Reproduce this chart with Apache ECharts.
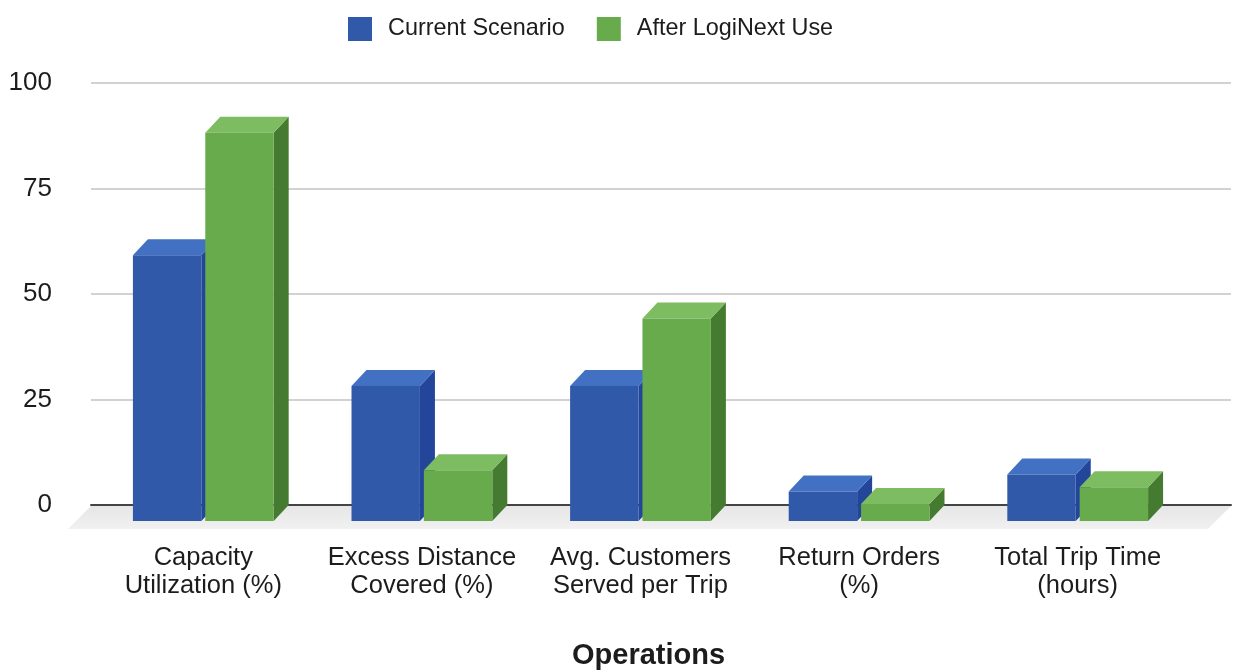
<!DOCTYPE html>
<html>
<head>
<meta charset="utf-8">
<script src="https://cdn.jsdelivr.net/npm/echarts@6/dist/echarts.min.js"></script>
<style>
html,body{margin:0;padding:0;background:#fff;}
#chart{width:1233px;height:672px;}
</style>
</head>
<body>
<div id="chart"></div>
<script>
const categories = ['Capacity\nUtilization (%)', 'Excess Distance\nCovered (%)', 'Avg. Customers\nServed per Trip', 'Return Orders\n(%)', 'Total Trip Time\n(hours)'];
const seriesNames = ['Current Scenario', 'After LogiNext Use'];
const currentScenario = [63, 32, 32, 7, 11];
const afterLogiNext = [92, 12, 48, 4, 8];
const yTicks = [0, 25, 50, 75, 100];

const FONT = 'Liberation Sans, Arial, Helvetica, sans-serif';
const DX = 15, DY = 16;      // 3D depth offset (style)
const FLOOR = 23;            // floor depth (style)
const palettes = [
  {front: '#3159a9', top: '#4270c2', side: '#23469a'},
  {front: '#68ab4c', top: '#7dbc61', side: '#457a31'}
];

function boxRenderer(sideSign, pal) {
  return function (params, api) {
    const idx = api.value(0), v = api.value(1);
    const base = api.coord([idx, 0]);
    const topP = api.coord([idx, v]);
    const bw = api.size([1, 0])[0];
    const w = bw * 0.313, hg = bw * 0.009;
    const x1 = sideSign < 0 ? base[0] - hg - w : base[0] + hg;
    const x2 = x1 + w;
    const yB = base[1], yT = topP[1];
    return {
      type: 'group',
      children: [
        {type: 'polygon', shape: {points: [[x2, yT + DY], [x2 + DX, yT], [x2 + DX, yB], [x2, yB + DY]]}, style: {fill: pal.side}},
        {type: 'polygon', shape: {points: [[x1, yT + DY], [x2, yT + DY], [x2 + DX, yT], [x1 + DX, yT]]}, style: {fill: pal.top}},
        {type: 'rect', shape: {x: x1, y: yT + DY, width: w, height: yB - yT}, style: {fill: pal.front}}
      ]
    };
  };
}

function floorRenderer(params, api) {
  const cs = params.coordSys;
  const yb = cs.y + cs.height + 1;
  const xl = cs.x, xr = cs.x + cs.width;
  return {
    type: 'polygon',
    shape: {points: [[xl, yb], [xr, yb], [xr - FLOOR, yb + FLOOR], [xl - FLOOR, yb + FLOOR]]},
    style: {fill: new echarts.graphic.LinearGradient(0, 0, 0, 1, [{offset: 0, color: '#e6e6e6'}, {offset: 1, color: '#f1f1f1'}])}
  };
}

const chart = echarts.init(document.getElementById('chart'), null, {renderer: 'canvas'});
chart.setOption({
  backgroundColor: '#ffffff',
  animation: false,
  title: {
    text: 'Operations', left: 567, top: 636,
    textStyle: {fontSize: 29, fontWeight: 'bold', color: '#1c1c1c', fontFamily: FONT}
  },
  legend: {
    data: seriesNames, left: 348, top: 17, icon: 'rect', padding: 0,
    itemWidth: 24, itemHeight: 24, itemGap: 32,
    textStyle: {fontSize: 23.4, color: '#1c1c1c', fontFamily: FONT, padding: [0, 0, 0, 11]}
  },
  grid: [
    {left: 91, right: 2, top: 83, bottom: 167},
    {left: 94, right: 46, top: 83, bottom: 167}
  ],
  xAxis: [
    {gridIndex: 0, type: 'category', data: categories, axisLine: {show: true, lineStyle: {color: '#444', width: 2}}, axisTick: {show: false}, axisLabel: {show: false}, splitLine: {show: false}},
    {gridIndex: 1, type: 'category', data: categories, axisLine: {show: false}, axisTick: {show: false},
     axisLabel: {margin: 39, fontSize: 25.5, lineHeight: 28, color: '#1c1c1c', fontFamily: FONT, interval: 0, align: 'center'}}
  ],
  yAxis: [
    {gridIndex: 0, type: 'value', min: yTicks[0], max: yTicks[yTicks.length - 1], interval: yTicks[1] - yTicks[0],
     axisLine: {show: false}, axisTick: {show: false},
     axisLabel: {margin: 39, fontSize: 26, color: '#1c1c1c', fontFamily: FONT},
     splitLine: {lineStyle: {color: '#d2d2d2', width: 2}}},
    {gridIndex: 1, type: 'value', min: yTicks[0], max: yTicks[yTicks.length - 1], interval: yTicks[1] - yTicks[0], show: false}
  ],
  series: [
    {type: 'custom', name: 'floor', xAxisIndex: 0, yAxisIndex: 0, data: [[0, 0]], renderItem: floorRenderer, z: 1, silent: true},
    {type: 'custom', name: seriesNames[0], xAxisIndex: 1, yAxisIndex: 1, itemStyle: {color: palettes[0].front},
     data: currentScenario.map((v, i) => [i, v]), encode: {x: 0, y: 1}, renderItem: boxRenderer(-1, palettes[0]), z: 2},
    {type: 'custom', name: seriesNames[1], xAxisIndex: 1, yAxisIndex: 1, itemStyle: {color: palettes[1].front},
     data: afterLogiNext.map((v, i) => [i, v]), encode: {x: 0, y: 1}, renderItem: boxRenderer(1, palettes[1]), z: 2}
  ]
});
</script>
</body>
</html>
